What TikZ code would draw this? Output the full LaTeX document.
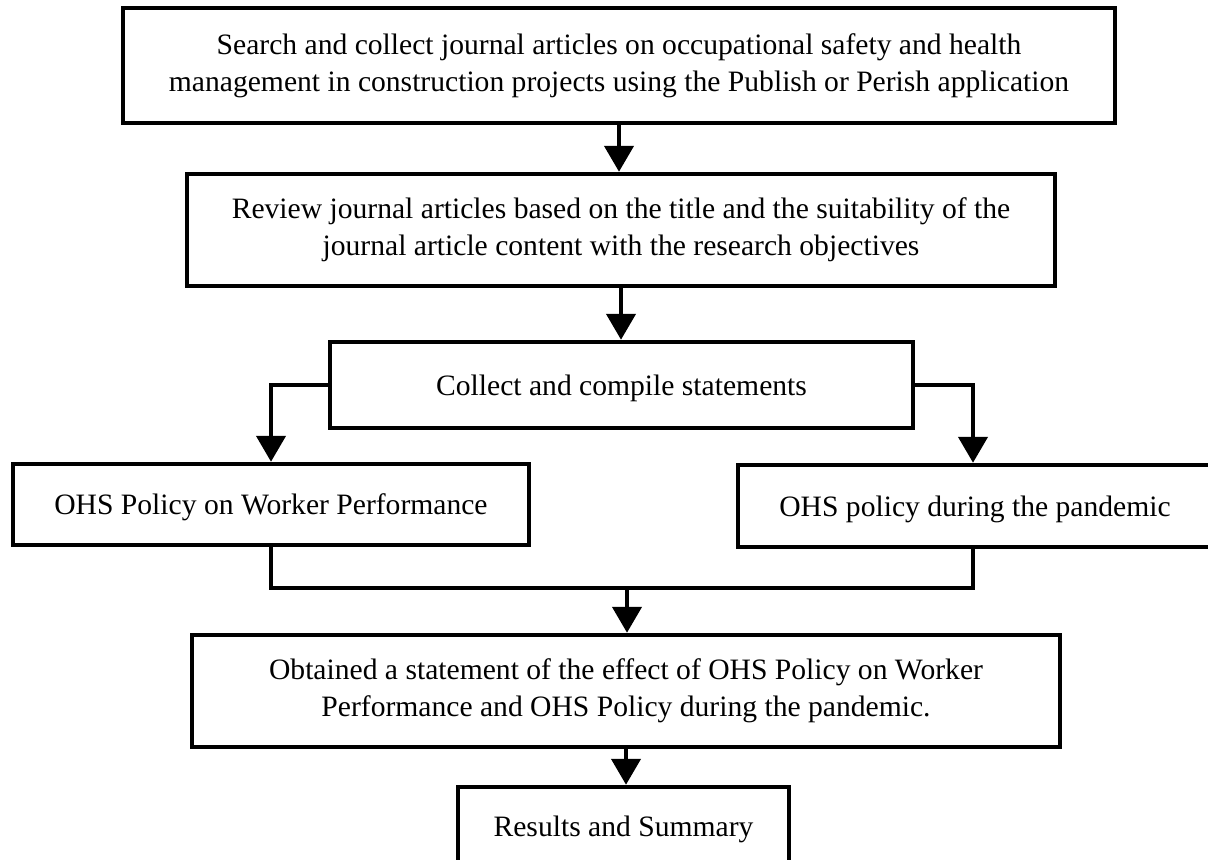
\documentclass[tikz,border=0pt]{standalone}
\usepackage{fontspec}
\setmainfont{Liberation Serif}
\usetikzlibrary{arrows.meta}
\begin{document}
\begin{tikzpicture}[x=0.5pt,y=-0.5pt,
  box/.style={draw=black, line width=2.25pt, inner sep=0pt, align=center,
    font=\fontsize{14.8}{18.5}\selectfont, fill=white},
  one/.style={text height=10pt, text depth=0pt},
  conn/.style={line width=2.25pt},
  arr/.style={line width=2.25pt, -{Triangle[width=14.5pt,length=13pt]}}]
\useasboundingbox (0,0) rectangle (1208,859);
\clip (0,0) rectangle (1208,859);
\fill[white] (0,0) rectangle (1208,859);
\node[box, minimum width=496pt, minimum height=57.5pt] (b1) at (619,65.5)
  {Search and collect journal articles on occupational safety and health\\management in construction projects using the Publish or Perish application};
\node[box, minimum width=434pt, minimum height=56pt] (b2) at (621,230)
  {Review journal articles based on the title and the suitability of the\\journal article content with the research objectives};
\node[box, one, minimum width=291.5pt, minimum height=43pt] (b3) at (621.5,385)
  {Collect and compile statements};
\node[box, one, minimum width=258pt, minimum height=40.5pt] (b4) at (271,504.5)
  {OHS Policy on Worker Performance};
\node[box, one, minimum width=237pt, minimum height=41pt] (b5) at (975,506)
  {OHS policy during the pandemic};
\node[box, minimum width=434pt, minimum height=56pt] (b6) at (626,691)
  {Obtained a statement of the effect of OHS Policy on Worker\\Performance and OHS Policy during the pandemic.};
\node[box, one, minimum width=165.5pt, minimum height=39pt] (b7) at (623.5,826)
  {Results and Summary};
\coordinate (j) at (627,588);
\coordinate (r) at (973,0);
\draw[arr] (b1.south) -- (b1.south |- b2.north);
\draw[arr] (b2.south) -- (b2.south |- b3.north);
\draw[arr] (b3.west) -| (b4.north);
\draw[arr] (b3.east) -| (r |- b5.north);
\draw[conn] (b4.south) |- (j) -| (r |- b5.south);
\draw[arr] (j) -- (j |- b6.north);
\draw[arr] (b6.south) -- (b6.south |- b7.north);
\end{tikzpicture}
\end{document}
